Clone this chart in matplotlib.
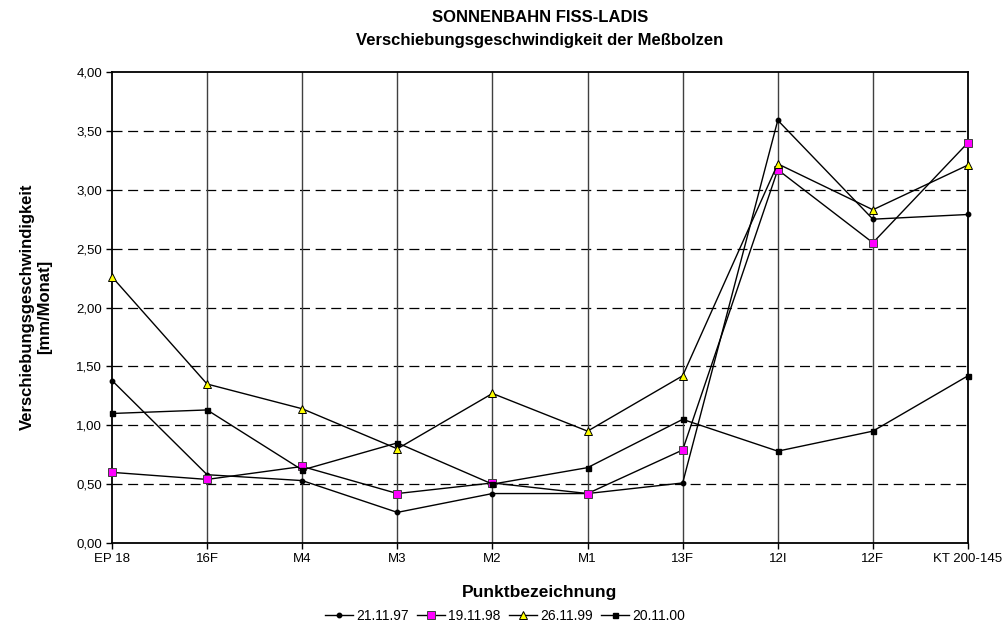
import matplotlib
matplotlib.use('Agg')
from matplotlib import pyplot as plt

plt.rcParams['font.family'] = ['Liberation Sans', 'DejaVu Sans']

# Daten
punkte = ['EP 18', '16F', 'M4', 'M3', 'M2', 'M1', '13F', '12I', '12F', 'KT 200-145']
v_1997 = [1.38, 0.58, 0.53, 0.26, 0.42, 0.42, 0.51, 3.59, 2.75, 2.79]
v_1998 = [0.60, 0.54, 0.65, 0.42, 0.51, 0.42, 0.79, 3.17, 2.55, 3.40]
v_1999 = [2.26, 1.35, 1.14, 0.80, 1.27, 0.95, 1.42, 3.22, 2.83, 3.21]
v_2000 = [1.10, 1.13, 0.62, 0.85, 0.50, 0.64, 1.05, 0.78, 0.95, 1.42]
y_ticks = [0, 0.5, 1.0, 1.5, 2.0, 2.5, 3.0, 3.5, 4.0]

fig = plt.figure(figsize=(10.02, 6.35), dpi=100)
ax = fig.add_axes([112 / 1002, 1 - 543 / 635, (968 - 112) / 1002, (543 - 72) / 635])

x = list(range(len(punkte)))
ax.plot(x, v_1997, color='black', lw=1, marker='o', ms=3.2, mfc='black', mec='black',
        label='21.11.97', zorder=3, clip_on=False)
ax.plot(x, v_1998, color='black', lw=1, marker='s', ms=5.2, mfc='#FF00FF', mec='#404040',
        mew=0.7, label='19.11.98', zorder=3, clip_on=False)
ax.plot(x, v_1999, color='black', lw=1, marker='^', ms=5.2, mfc='#FFFF00', mec='black',
        mew=0.7, label='26.11.99', zorder=3, clip_on=False)
ax.plot(x, v_2000, color='black', lw=1, marker='s', ms=3.6, mfc='black', mec='black',
        label='20.11.00', zorder=3, clip_on=False)

ax.set_xlim(0, len(punkte) - 1)
ax.set_ylim(0, 4)
ax.set_xticks(x)
ax.set_xticklabels(punkte, fontsize=9.5)
ax.set_yticks(y_ticks)
ax.set_yticklabels([f'{v:.2f}'.replace('.', ',') for v in y_ticks], fontsize=9.5)
ax.tick_params(direction='out', length=4, width=1, color='black', pad=3)

# Gitter
for v in y_ticks[1:-1]:
    ax.axhline(v, color='black', lw=0.9, ls=(0, (8, 4.5)), zorder=1)
for xi in x[1:-1]:
    ax.axvline(xi, color='#404040', lw=1, zorder=1)

for s in ax.spines.values():
    s.set_linewidth(1.3)
    s.set_color('black')

fig.text(540 / 1002, 1 - 18 / 635, 'SONNENBAHN FISS-LADIS', ha='center', va='center',
         fontsize=12, fontweight='bold')
fig.text(540 / 1002, 1 - 41 / 635, 'Verschiebungsgeschwindigkeit der Meßbolzen',
         ha='center', va='center', fontsize=12, fontweight='bold')
fig.text(36 / 1002, 1 - 307 / 635, 'Verschiebungsgeschwindigkeit\n[mm/Monat]', ha='center',
         va='center', rotation=90, fontsize=12, fontweight='bold', linespacing=1.25)
fig.text(540 / 1002, 1 - 592 / 635, 'Punktbezeichnung', ha='center', va='center',
         fontsize=12.5, fontweight='bold')

fig.legend(loc='center', bbox_to_anchor=(505 / 1002, 1 - 616 / 635), ncol=4,
           frameon=False, fontsize=10, handlelength=2.0, handletextpad=0.25,
           columnspacing=0.6, borderaxespad=0)

fig.savefig('out.png', dpi=100)
